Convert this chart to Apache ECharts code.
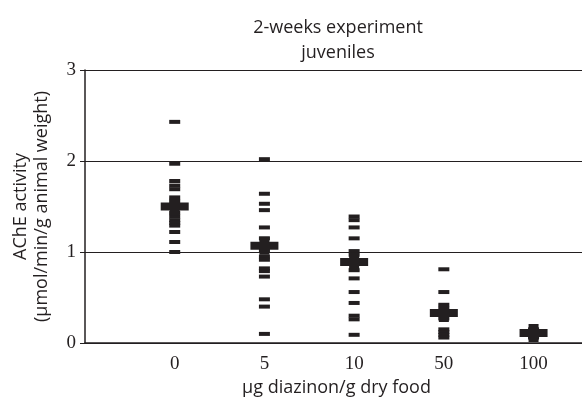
<!DOCTYPE html>
<html>
<head>
<meta charset="utf-8">
<script src="https://cdn.jsdelivr.net/npm/echarts@6/dist/echarts.min.js"></script>
<style>
    html, body { margin: 0; padding: 0; background: #fff; }
    #chart { width: 582px; height: 398px; }
</style>
</head>
<body>
<div id="chart"></div>
<script>
// doses shown on the x axis
const doses = ['0', '5', '10', '50', '100'];

// individual animals, per dose
const dose0 = [2.43, 1.97, 1.78, 1.73, 1.69, 1.60, 1.56, 1.43, 1.39, 1.35, 1.32, 1.29, 1.22, 1.11, 1.00];
const dose5 = [2.02, 1.64, 1.53, 1.46, 1.27, 1.15, 1.02, 0.95, 0.915, 0.82, 0.79, 0.73, 0.48, 0.40, 0.10];
const dose10 = [1.39, 1.35, 1.27, 1.15, 1.01, 0.97, 0.91, 0.87, 0.80, 0.71, 0.56, 0.44, 0.30, 0.26, 0.09];
const dose50 = [0.81, 0.56, 0.42, 0.38, 0.27, 0.15, 0.12, 0.09, 0.06];
const dose100 = [0.15, 0.12, 0.10, 0.08, 0.06];

// group means
const means = [1.50, 1.07, 0.89, 0.33, 0.11];

const yTicks = [0, 1, 2, 3];

const groups = [dose0, dose5, dose10, dose50, dose100];
const pointData = [];
groups.forEach((vals, i) => {
    vals.forEach(v => pointData.push([i + 1, v]));
});
const meanData = means.map((m, i) => [i + 1, m]);

const ink = '#231f20';
const sans = '"Open Sans", "DejaVu Sans", sans-serif';
const serif = '"Liberation Serif", serif';

const chart = echarts.init(document.getElementById('chart'));
chart.setOption({
    animation: false,
    title: {
        text: '2-weeks experiment\njuveniles',
        left: 333,
        top: 10,
        textAlign: 'center',
        textStyle: {
            fontFamily: sans,
            fontSize: 18,
            fontWeight: 'normal',
            color: ink,
            lineHeight: 25
        }
    },
    grid: { left: 85, right: 0, top: 70, bottom: 55, containLabel: false, outerBoundsMode: 'none' },
    xAxis: {
        type: 'value',
        min: 0,
        max: 5.54,
        interval: 1,
        name: 'µg diazinon/g dry food',
        nameLocation: 'middle',
        nameGap: 29,
        nameTextStyle: { fontFamily: sans, fontSize: 18, color: ink, padding: [0, 0, 0, 6] },
        axisLine: { lineStyle: { color: ink, width: 1.5 } },
        axisTick: { show: false },
        splitLine: { show: false },
        axisLabel: {
            formatter: v => doses[v - 1] || '',
            fontFamily: serif,
            fontSize: 19,
            color: ink,
            margin: 12
        }
    },
    yAxis: {
        type: 'value',
        min: yTicks[0],
        max: yTicks[yTicks.length - 1],
        interval: 1,
        name: 'AChE activity\n(µmol/min/g animal weight)',
        nameLocation: 'middle',
        nameRotate: 90,
        nameGap: 33,
        nameTextStyle: { fontFamily: sans, fontSize: 18, color: ink, lineHeight: 21 },
        axisLine: { show: true, lineStyle: { color: ink, width: 1.5 } },
        axisTick: { show: true, length: 5, lineStyle: { color: ink } },
        splitLine: { show: true, lineStyle: { color: ink, width: 1 } },
        axisLabel: { fontFamily: serif, fontSize: 19, color: ink, margin: 9 }
    },
    series: [
        {
            type: 'scatter',
            data: pointData,
            symbol: 'rect',
            symbolSize: [11, 4],
            itemStyle: { color: ink, opacity: 1 },
            z: 2
        },
        {
            type: 'scatter',
            data: meanData,
            symbol: 'path://M0,5H9V0H19V5H28V13H19V18H9V13H0Z',
            symbolKeepAspect: false,
            symbolSize: [28, 18],
            itemStyle: { color: ink, opacity: 1 },
            z: 3
        }
    ]
});
</script>
</body>
</html>
